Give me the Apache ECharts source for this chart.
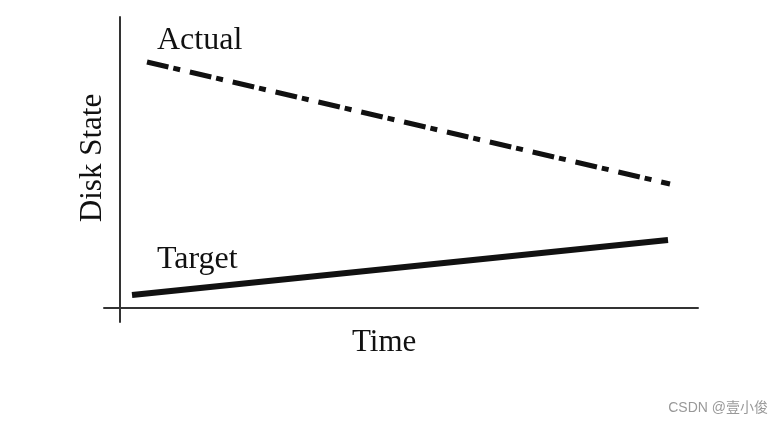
<!DOCTYPE html>
<html>
<head>
<meta charset="utf-8">
<script src="https://cdn.jsdelivr.net/npm/echarts@6/dist/echarts.min.js"></script>
<style>html,body{margin:0;padding:0;background:#fff;}#c{width:784px;height:424px;}</style>
</head>
<body>
<div id="c"></div>
<script>
// data (time, disk state), arbitrary units
const actualTime = [27, 550];
const actualState = [246, 124];
const targetTime = [12, 548];
const targetState = [13, 68];
const xName = 'Time';
const yName = 'Disk State';
const labelActual = 'Actual';
const labelTarget = 'Target';
const watermark = 'CSDN @壹小俊';

const chart = echarts.init(document.getElementById('c'));
const serif = '"Liberation Serif", "DejaVu Serif", serif';
chart.setOption({
  animation: false,
  backgroundColor: '#fff',
  grid: {left: 104, right: 86, top: 17, bottom: 102},
  xAxis: {
    type: 'value', min: -16, max: 578,
    axisLine: {show: true, onZero: true, lineStyle: {color: '#333', width: 2}},
    axisTick: {show: false}, axisLabel: {show: false}, splitLine: {show: false}
  },
  yAxis: {
    type: 'value', min: -14, max: 291,
    axisLine: {show: true, onZero: true, lineStyle: {color: '#333', width: 2}},
    axisTick: {show: false}, axisLabel: {show: false}, splitLine: {show: false}
  },
  series: [
    {
      type: 'line', name: labelActual, symbol: 'none',
      data: actualTime.map((t, i) => [t, actualState[i]]),
      lineStyle: {color: '#111', width: 5, type: [22, 5, 7, 10]}
    },
    {
      type: 'line', name: labelTarget, symbol: 'none',
      data: targetTime.map((t, i) => [t, targetState[i]]),
      lineStyle: {color: '#111', width: 6}
    }
  ],
  graphic: [
    {type: 'text', left: 157, top: 25, style: {text: labelActual, font: '32px ' + serif, fill: '#111'}},
    {type: 'text', left: 157, top: 244, style: {text: labelTarget, font: '32px ' + serif, fill: '#111'}},
    {type: 'text', left: 352, top: 327, style: {text: xName, font: '31px ' + serif, fill: '#111'}},
    {type: 'text', x: 93, y: 158, rotation: Math.PI / 2,
      style: {text: yName, font: '31px ' + serif, fill: '#111', align: 'center', verticalAlign: 'middle'}},
    {type: 'text', right: 16, top: 401, style: {text: watermark, font: '14px "Liberation Sans", "Noto Sans CJK SC", sans-serif', fill: '#999'}}
  ]
});
</script>
</body>
</html>
